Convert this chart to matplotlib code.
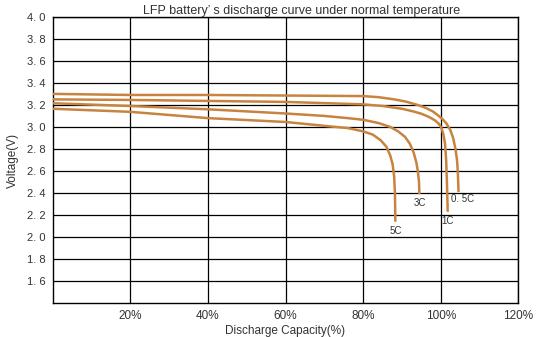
import matplotlib
matplotlib.use("Agg")
import matplotlib.pyplot as plt

# Data
x_05c = [0, 20, 40, 60, 80, 84, 88, 91, 94, 96, 98, 99.5, 100.5, 101.5, 102.5, 103.2, 103.8, 104.2, 104.4, 104.5, 104.6]
v_05c = [3.30, 3.29, 3.29, 3.285, 3.28, 3.27, 3.25, 3.23, 3.20, 3.175, 3.14, 3.10, 3.07, 3.03, 2.97, 2.90, 2.80, 2.70, 2.60, 2.50, 2.41]

x_1c = [0, 20, 40, 60, 80, 85, 90, 93, 95, 97, 98.5, 99.5, 100.2, 100.7, 101.1, 101.4, 101.6, 101.8]
v_1c = [3.25, 3.245, 3.236, 3.227, 3.205, 3.19, 3.165, 3.14, 3.12, 3.09, 3.06, 3.03, 2.99, 2.93, 2.85, 2.70, 2.50, 2.23]

x_3c = [0, 20, 40, 60, 70, 76, 80, 84, 87, 89, 90.8, 92, 93, 93.7, 94.1, 94.4, 94.5]
v_3c = [3.215, 3.19, 3.16, 3.122, 3.10, 3.08, 3.065, 3.035, 3.00, 2.96, 2.91, 2.85, 2.77, 2.68, 2.60, 2.50, 2.39]

x_5c = [0, 20, 40, 60, 70, 76, 80, 82.5, 84.5, 86, 87, 87.6, 88, 88.2, 88.3]
v_5c = [3.165, 3.137, 3.08, 3.045, 3.01, 2.99, 2.96, 2.93, 2.88, 2.82, 2.74, 2.66, 2.55, 2.40, 2.14]

series_labels = ["0. 5C", "1C", "3C", "5C"]
x_ticks = [20, 40, 60, 80, 100, 120]
x_ticklabels = ["20%", "40%", "60%", "80%", "100%", "120%"]
y_ticks = [1.6, 1.8, 2.0, 2.2, 2.4, 2.6, 2.8, 3.0, 3.2, 3.4, 3.6, 3.8, 4.0]
y_ticklabels = ["1. 6", "1. 8", "2. 0", "2. 2", "2. 4", "2. 6", "2. 8", "3. 0", "3. 2", "3. 4", "3. 6", "3. 8", "4. 0"]

plt.rcParams['font.family'] = ['Liberation Sans', 'DejaVu Sans']
txt = '#333333'
line_color = '#c8843f'

fig = plt.figure(figsize=(5.37, 3.37), dpi=100)
ax = fig.add_axes([0.0983, 0.10, 0.8669, 0.8504])
ax.set_xlim(0, 120)
ax.set_ylim(1.4, 4.0)

ax.set_xticks(x_ticks)
ax.set_xticklabels(x_ticklabels, fontsize=8.5, color=txt)
ax.set_yticks(y_ticks)
ax.set_yticklabels(y_ticklabels, fontsize=8, color=txt)
ax.tick_params(length=0, pad=5)
ax.grid(True, color='black', linewidth=0.9)
ax.set_axisbelow(True)
for s in ax.spines.values():
    s.set_color('black')
    s.set_linewidth(1.0)

for xs, vs in [(x_05c, v_05c), (x_1c, v_1c), (x_3c, v_3c), (x_5c, v_5c)]:
    ax.plot(xs, vs, color=line_color, linewidth=1.8, solid_capstyle='butt',
            solid_joinstyle='round', zorder=3)

# curve labels
label_pos = [(x_05c[-1] + 1.0, v_05c[-1] - 0.06),
             (x_1c[-1], v_1c[-1] - 0.08),
             (x_3c[-1], v_3c[-1] - 0.08),
             (x_5c[-1], v_5c[-1] - 0.08)]
for lab, (lx, ly) in zip(series_labels, label_pos):
    ax.text(lx, ly, lab, fontsize=7, color=txt, ha='center', va='center', zorder=4)

ax.set_title("LFP battery\u2019 s discharge curve under normal temperature",
             fontsize=9, color=txt, pad=2, x=0.535)
ax.set_xlabel("Discharge Capacity(%)", fontsize=8.5, color=txt, labelpad=2, x=0.5)
ax.set_ylabel("Voltage(V)", fontsize=8.5, color=txt, labelpad=6)

fig.savefig("out.png", dpi=100)
